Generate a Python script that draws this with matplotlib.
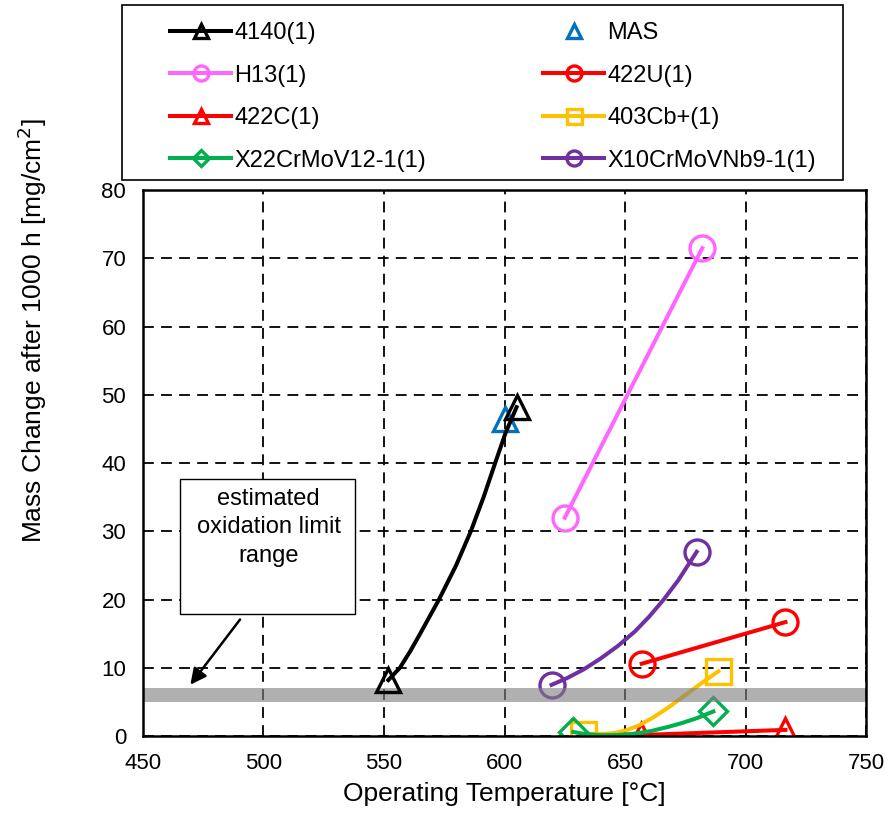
import numpy as np
import matplotlib.pyplot as plt

plt.rcParams['font.family'] = ['Liberation Sans', 'DejaVu Sans']

# data (temperature in C, mass change in mg/cm2)
t_4140 = [551.8, 556.6, 561.0, 565.0, 572.8, 579.9, 586.0, 591.3, 596.1, 600.5, 605.0]
m_4140 = [8.2, 10.0, 12.5, 15.0, 20.0, 25.0, 30.0, 35.0, 40.0, 44.5, 48.2]
t_mas = [600]
m_mas = [46.5]
t_h13 = [625, 682]
m_h13 = [32.0, 71.5]
t_422u = [656.9, 716.5]
m_422u = [10.6, 16.7]
t_422c = [656.4, 716.5]
m_422c = [0.15, 0.9]
t_403 = [632.6, 640.0, 646.0, 651.0, 656.0, 662.0, 668.0, 674.2, 681.1, 688.7]
m_403 = [0.35, 0.3, 0.45, 0.9, 1.6, 2.8, 4.2, 5.8, 7.6, 9.5]
t_x22 = [628.5, 633.0, 640.0, 647.0, 654.0, 661.0, 668.0, 674.0, 680.0, 686.6]
m_x22 = [0.6, 0.3, 0.12, 0.15, 0.35, 0.75, 1.35, 1.95, 2.65, 3.6]
t_x10 = [619.5, 626.0, 633.0, 640.0, 647.0, 654.0, 660.0, 666.0, 672.0, 679.7]
m_x10 = [7.5, 8.5, 9.8, 11.4, 13.2, 15.3, 17.5, 20.0, 22.8, 27.0]
limit_band = (5, 7)

fig = plt.figure(figsize=(8.93, 8.16), dpi=100)
ax = fig.add_axes([0.160, 0.098, 0.810, 0.669])

mew = 2.4
lw = 2.9

def ends(x):
    return [0, len(x) - 1]

# grey band sits on top of the curves, slightly see-through
ax.axhspan(limit_band[0], limit_band[1], color='#808080', alpha=0.62, zorder=4, lw=0)

h_4140, = ax.plot(t_4140, m_4140, color='black', lw=lw, marker='^', ms=17, mew=mew,
                  mfc='none', markevery=ends(t_4140), label='4140(1)', zorder=5)
h_mas, = ax.plot(t_mas, m_mas, ls='none', color='#0070c0', marker='^', ms=17, mew=mew,
                 mfc='none', label='MAS', zorder=3)
h_h13, = ax.plot(t_h13, m_h13, color='#ff66ff', lw=lw, marker='o', ms=18, mew=mew,
                 mfc='none', label='H13(1)', zorder=3)
h_422u, = ax.plot(t_422u, m_422u, color='#ff0000', lw=lw, marker='o', ms=18, mew=mew,
                  mfc='none', label='422U(1)', zorder=3)
h_422c, = ax.plot(t_422c, m_422c, color='#ff0000', lw=lw, marker='^', ms=17, mew=mew,
                  mfc='none', label='422C(1)', zorder=3)
h_403, = ax.plot(t_403, m_403, color='#ffc000', lw=lw, marker='s', ms=18, mew=mew,
                 mfc='none', markevery=ends(t_403), label='403Cb+(1)', zorder=3)
h_x22, = ax.plot(t_x22, m_x22, color='#00b050', lw=lw, marker='D', ms=14, mew=mew,
                 mfc='none', markevery=ends(t_x22), label='X22CrMoV12-1(1)', zorder=3)
h_x10, = ax.plot(t_x10, m_x10, color='#7030a0', lw=lw, marker='o', ms=18, mew=mew,
                 mfc='none', markevery=ends(t_x10), label='X10CrMoVNb9-1(1)', zorder=3)

ax.set_xlim(450, 750)
ax.set_ylim(0, 80)
ax.set_xticks(np.arange(450, 751, 50))
ax.set_yticks(np.arange(0, 81, 10))
ax.tick_params(length=0, labelsize=16, pad=12)
ax.grid(True, color='black', ls=(0, (6, 4)), lw=1.3, zorder=0)
for s in ax.spines.values():
    s.set_linewidth(1.8)
    s.set_zorder(6)
ax.set_xlabel('Operating Temperature [\u00b0C]', fontsize=19, labelpad=6)
ax.set_ylabel('Mass Change after 1000 h [mg/cm$^2$]', fontsize=19, va='center')
ax.yaxis.set_label_coords(-0.153, 0.742)

# annotation box with arrow
ax.add_patch(plt.Rectangle((0.051, 0.223), 0.242, 0.248, transform=ax.transAxes,
                           fc='white', ec='black', lw=1, zorder=5))
ax.text(0.174, 0.382, 'estimated\noxidation limit\nrange', transform=ax.transAxes,
        fontsize=17, ha='center', va='center', linespacing=1.4, zorder=6)
ax.annotate('', xy=(469, 7.2), xytext=(491, 17.4),
            arrowprops=dict(arrowstyle='-|>', color='black', lw=1.8, mutation_scale=24),
            zorder=6)

# legend (row-major order in picture -> column-major for matplotlib)
handles = [h_4140, h_h13, h_422c, h_x22, h_mas, h_422u, h_403, h_x10]
leg = fig.legend(handles=handles, labels=[h.get_label() for h in handles], ncol=2,
                 loc='upper left', bbox_to_anchor=(0.1904, 0.973),
                 fontsize=17, frameon=False, markerscale=0.6, handlelength=2.6,
                 handletextpad=0.13, labelspacing=0.87, borderpad=0,
                 borderaxespad=0, columnspacing=4.95)
fig.patches.append(plt.Rectangle((0.1366, 0.7794), 0.8074, 0.2145, transform=fig.transFigure,
                                 fill=False, ec='black', lw=1.2))

fig.savefig('out.png', dpi=100)
